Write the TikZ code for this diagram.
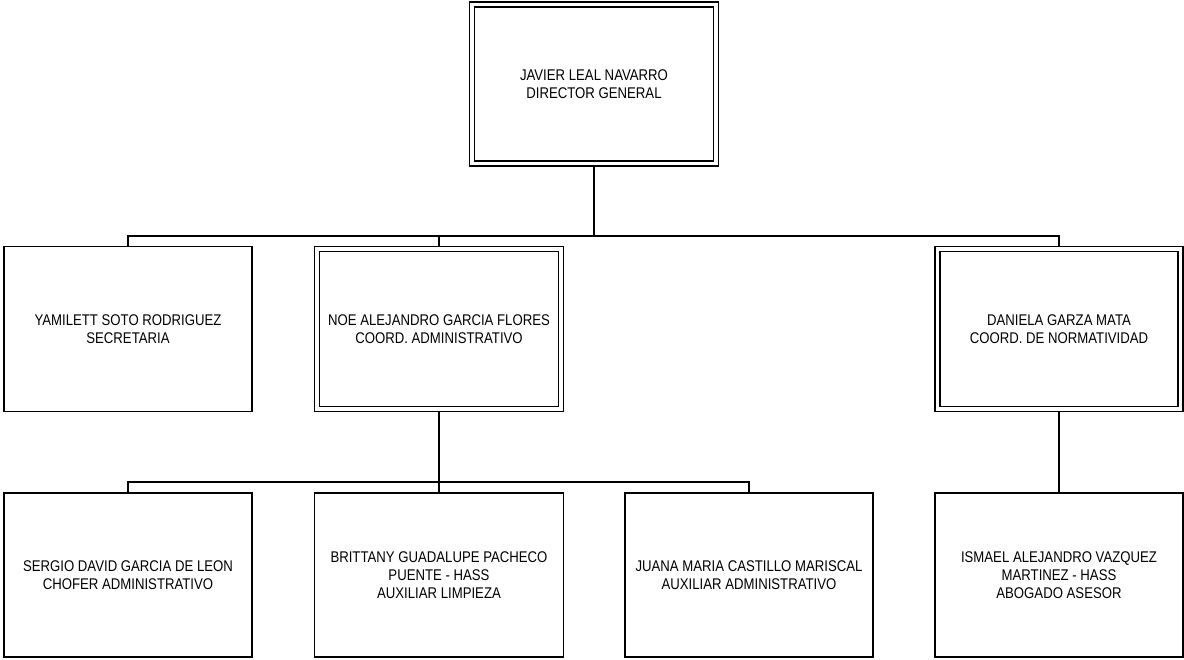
\documentclass[tikz,border=0pt]{standalone}
\usepackage{fontspec}
\setmainfont{Liberation Sans}[FakeStretch=0.85]
\begin{document}
\begin{tikzpicture}[x=1pt,y=-1pt,
  box/.style={draw=black, line width=1.3pt, fill=white, rectangle, outer sep=0pt,
    minimum width=248pt, minimum height=165pt, align=center, inner sep=2pt,
    font=\fontsize{15.5}{18}\selectfont, text=black},
  inner/.style={draw=black, line width=1.3pt},
  link/.style={draw=black, line width=1.8pt}]
\useasboundingbox (0,0) rectangle (1184,659);
\fill[white] (0,0) rectangle (1184,659);
% bus points
\coordinate (bus1) at (594,236);
\coordinate (bus2) at (439,482);
% nodes
\node[box, minimum width=249pt, minimum height=164pt] (dir) at (594,84) {JAVIER LEAL NAVARRO\\DIRECTOR GENERAL};
\node[box] (yam) at (128,329) {YAMILETT SOTO RODRIGUEZ\\SECRETARIA};
\node[box, minimum width=249pt] (noe) at (439,329) {NOE ALEJANDRO GARCIA FLORES\\COORD. ADMINISTRATIVO};
\node[box] (dan) at (1059,329) {DANIELA GARZA MATA\\COORD. DE NORMATIVIDAD};
\node[box, minimum height=164pt] (ser) at (128,575) {SERGIO DAVID GARCIA DE LEON\\CHOFER ADMINISTRATIVO};
\node[box, minimum width=249pt, minimum height=164pt] (bri) at (439,575) {BRITTANY GUADALUPE PACHECO\\PUENTE - HASS\\AUXILIAR LIMPIEZA};
\node[box, minimum height=164pt] (jua) at (749,575) {JUANA MARIA CASTILLO MARISCAL\\AUXILIAR ADMINISTRATIVO};
\node[box, minimum height=164pt] (ism) at (1059,575) {ISMAEL ALEJANDRO VAZQUEZ\\MARTINEZ - HASS\\ABOGADO ASESOR};
% inner borders of the double-framed boxes
\foreach \n in {dir,noe,dan}{
  \draw[inner] ([xshift=5pt,yshift=-5pt]\n.north west) rectangle ([xshift=-5pt,yshift=5pt]\n.south east);
}
% connectors
\draw[link] (dir.south) -- (bus1);
\draw[link] (yam.north) |- (bus1);
\draw[link] (noe.north) |- (bus1);
\draw[link] (dan.north) |- (bus1);
\draw[link] (noe.south) -- (bus2);
\draw[link] (ser.north) |- (bus2);
\draw[link] (bri.north) |- (bus2);
\draw[link] (jua.north) |- (bus2);
\draw[link] (dan.south) -- (ism.north);
\end{tikzpicture}
\end{document}
